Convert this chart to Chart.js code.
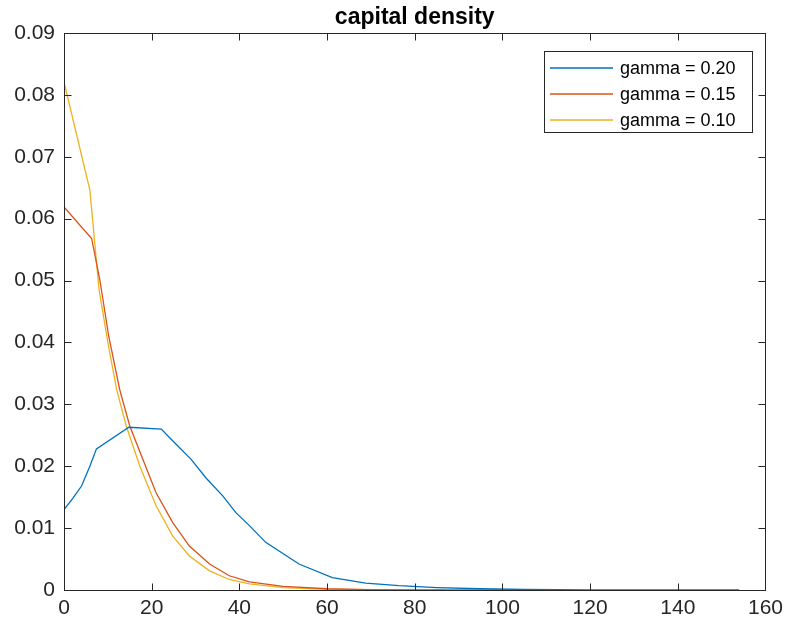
<!DOCTYPE html>
<html>
<head>
<meta charset="utf-8">
<script src="https://cdn.jsdelivr.net/npm/chart.js@4/dist/chart.umd.min.js"></script>
<style>
  html,body{margin:0;padding:0;background:#fff;}
  #c{display:block;}
</style>
</head>
<body>
<canvas id="c" width="789" height="628"></canvas>
<script>
// values
const titleText = 'capital density';
const seriesLabels = ['gamma = 0.20', 'gamma = 0.15', 'gamma = 0.10'];
const seriesColors = ['#0072BD', '#D95319', '#EDB120'];

const k020 = [0, 2, 4, 5.9, 7.4, 14.8, 22.2, 24.1, 29, 32.4, 36.2, 39.2, 42.3, 46, 53.6, 61.2, 68.8, 76.4, 85, 95, 105, 120, 154];
const d020 = [0.0130, 0.0148, 0.0168, 0.0200, 0.0228, 0.0263, 0.0260, 0.0246, 0.0211, 0.0181, 0.0152, 0.0125, 0.0104, 0.0077, 0.0042, 0.0020, 0.0011, 0.0007, 0.0004, 0.0002, 0.00008, 0.00002, 0];

const k015 = [0, 6.3, 8.2, 10.2, 12.7, 15, 18, 21, 24.8, 28.6, 33.2, 37.7, 42.3, 50, 60, 70, 80, 104];
const d015 = [0.0619, 0.0568, 0.0500, 0.0410, 0.0324, 0.0265, 0.0211, 0.0157, 0.0109, 0.0071, 0.0042, 0.0023, 0.0013, 0.0006, 0.0002, 0.00006, 0.00002, 0];

const k010 = [0, 5.9, 8, 10, 12, 14.2, 17.3, 21, 24.8, 28.6, 33.2, 37.7, 42.3, 50, 60, 70, 87];
const d010 = [0.0821, 0.0646, 0.0485, 0.0400, 0.0324, 0.0265, 0.0200, 0.0136, 0.0087, 0.0055, 0.0031, 0.0017, 0.0010, 0.0004, 0.0001, 0.00003, 0];

const xMin = 0, xMax = 160, xStep = 20;
const yMin = 0, yMax = 0.09, yStep = 0.01;

const toPts = (xs, ys) => xs.map((x, i) => ({x: x, y: ys[i]}));
const FONT = '"Liberation Sans", Arial, Helvetica, sans-serif';
const INK = '#262626';

// frame, inward ticks, title, legend (matlab look)
const matlabLook = {
  id: 'matlabLook',
  afterDraw(chart){
    const ctx = chart.ctx, a = chart.chartArea;
    const xs = chart.scales.x, ys = chart.scales.y;
    const L = Math.round(a.left)+0.5, R = Math.round(a.right)+0.5, T = Math.round(a.top)+0.5, B = Math.round(a.bottom)+0.5;
    ctx.save();
    ctx.strokeStyle = INK; ctx.lineWidth = 1;
    ctx.strokeRect(L, T, R-L, B-T);
    const tl = 7;
    ctx.beginPath();
    xs.ticks.forEach(t=>{
      const px = Math.round(xs.getPixelForValue(t.value))+0.5;
      ctx.moveTo(px, B); ctx.lineTo(px, B-tl);
      ctx.moveTo(px, T); ctx.lineTo(px, T+tl);
    });
    ys.ticks.forEach(t=>{
      const py = Math.round(ys.getPixelForValue(t.value))+0.5;
      ctx.moveTo(L, py); ctx.lineTo(L+tl, py);
      ctx.moveTo(R, py); ctx.lineTo(R-tl, py);
    });
    ctx.stroke();

    // title
    ctx.fillStyle = '#000';
    ctx.font = 'bold 23px ' + FONT;
    ctx.textAlign = 'center'; ctx.textBaseline = 'alphabetic';
    ctx.fillText(titleText, (a.left+a.right)/2, 24);

    // legend
    const bx = 544.5, by = 51.5, bw = 208, bh = 81;
    ctx.fillStyle = '#fff';
    ctx.fillRect(bx, by, bw, bh);
    ctx.strokeStyle = INK;
    ctx.strokeRect(bx, by, bw, bh);
    ctx.font = '18px ' + FONT;
    ctx.textAlign = 'left'; ctx.textBaseline = 'middle';
    chart.data.datasets.forEach((ds, i)=>{
      const yy = 68 + i*26;
      ctx.strokeStyle = ds.borderColor; ctx.lineWidth = 1.3;
      ctx.beginPath(); ctx.moveTo(550, yy); ctx.lineTo(613, yy); ctx.stroke();
      ctx.fillStyle = '#000';
      ctx.fillText(ds.label, 620, yy+1);
    });
    ctx.restore();
  }
};

new Chart(document.getElementById('c'), {
  type: 'line',
  data: {
    datasets: [
      {label: seriesLabels[0], data: toPts(k020, d020), borderColor: seriesColors[0]},
      {label: seriesLabels[1], data: toPts(k015, d015), borderColor: seriesColors[1]},
      {label: seriesLabels[2], data: toPts(k010, d010), borderColor: seriesColors[2]}
    ]
  },
  options: {
    responsive: false,
    animation: false,
    parsing: false,
    elements: {
      line: {borderWidth: 1.3, tension: 0, fill: false},
      point: {radius: 0, hoverRadius: 0}
    },
    layout: {padding: {top: 33, right: 20, left: 0, bottom: 0}},
    plugins: {legend: {display: false}, title: {display: false}, tooltip: {enabled: false}},
    scales: {
      x: {
        type: 'linear', min: xMin, max: xMax,
        grid: {display: false, drawTicks: false},
        border: {display: false},
        ticks: {stepSize: xStep, padding: 6, color: INK, font: {family: FONT, size: 21}, maxRotation: 0},
        afterFit(s){ s.height = 38; }
      },
      y: {
        min: yMin, max: yMax,
        grid: {display: false, drawTicks: false},
        border: {display: false},
        ticks: {stepSize: yStep, padding: 9, color: INK, font: {family: FONT, size: 21},
          callback: v => v === 0 ? '0' : Number(v).toFixed(2)},
        afterFit(s){ s.width = 64; }
      }
    }
  },
  plugins: [matlabLook]
});
</script>
</body>
</html>
